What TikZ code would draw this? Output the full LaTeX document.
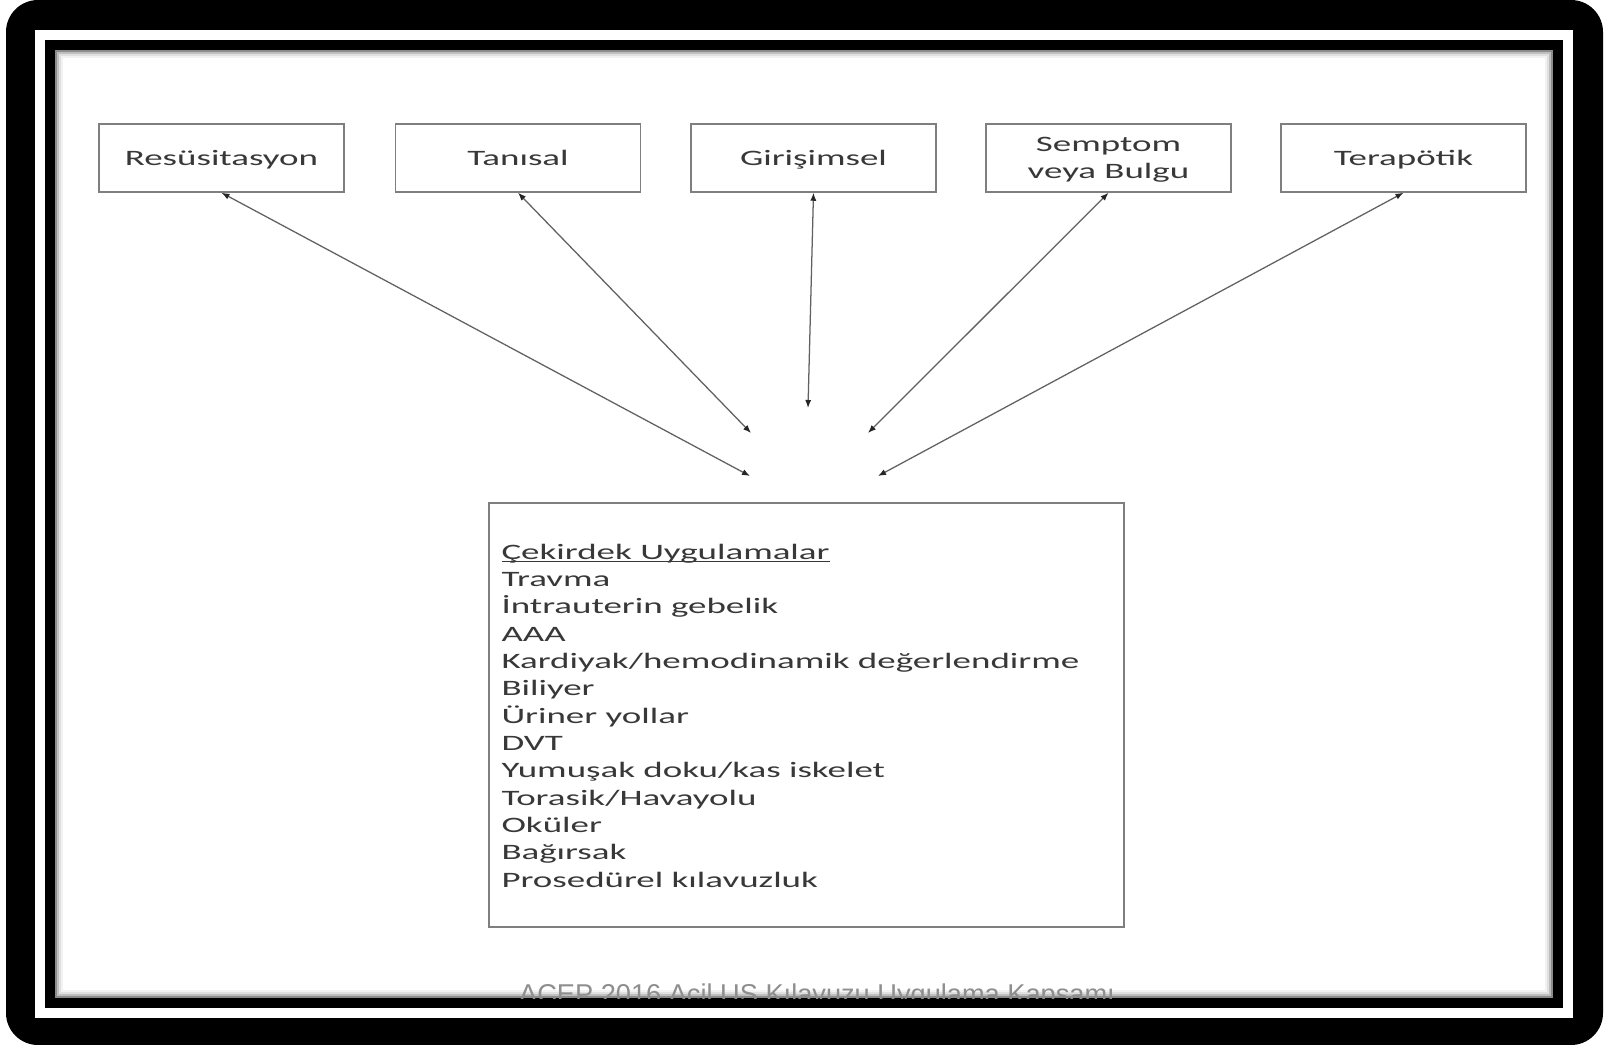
\documentclass[tikz,border=0pt]{standalone}
\usepackage{fontspec}
\usetikzlibrary{arrows.meta}
\newfontfamily\kutufont{Carlito}[FakeStretch=1.68]
\newfontfamily\dipfont{Liberation Sans}
\definecolor{cerceve}{HTML}{7F7F7F}
\definecolor{yazi}{HTML}{383838}
\definecolor{okrenk}{HTML}{616161}
\definecolor{dipnotrenk}{HTML}{8E8E8E}
\newcommand\altcizgi[1]{\setbox0\hbox{#1}\rlap{\rule[-2.4pt]{\wd0}{0.9pt}}\box0}

\tikzset{every picture/.style={line width=0.75pt},
  baslik/.style={draw=cerceve, line width=1.1pt, fill=white, minimum width=183.75pt,
    minimum height=51pt, inner sep=0pt, align=center, text=yazi,
    font=\kutufont\fontsize{16.5}{20.25}\selectfont},
  tek/.style={text height=13pt, text depth=1pt},
  bagla/.style={draw=okrenk, line width=0.95pt,
    {Latex[length=6pt,width=4.6pt,color=black!85]}-{Latex[length=6pt,width=4.6pt,color=black!85]}}}

\begin{document}
\begin{tikzpicture}[x=0.75pt,y=0.75pt,yscale=-1,xscale=1]
\useasboundingbox (0,0) rectangle (1604,1045);

%Shape: Frame
\fill[white] (0,0) rectangle (1604,1045);
\fill[black, rounded corners=24pt] (6,0) rectangle (1603,1045);
\fill[white] (35,30) rectangle (1573,1018);
\fill[black] (45,40) rectangle (1563,1008);
\fill[white] (55,50) rectangle (1553,998);

%Shape: inner shadow
\draw[black!45, line width=1.5pt] (56,51) rectangle (1552,997);
\draw[black!25, line width=1.5pt] (58,53) rectangle (1550,995);
\draw[black!12, line width=1.5pt] (60,55) rectangle (1548,993);
\draw[black!5, line width=1.5pt] (62,57) rectangle (1546,991);

% Text Node
\begin{scope}
\clip (55,50) rectangle (1553,998);
\node[font=\dipfont\fontsize{20.4}{24}\selectfont, text=dipnotrenk, anchor=base, inner sep=0pt] (dipnot) at (817,1003) {ACEP 2016 Acil US Kılavuzu Uygulama Kapsamı};
\end{scope}

%Shape: top boxes
\node[baslik, tek] (resus) at (221.5,158) {Resüsitasyon};
\node[baslik, tek] (tanisal) at (518,158) {Tanısal};
\node[baslik, tek] (girisim) at (813.5,158) {Girişimsel};
\node[baslik, text depth=0pt] (semptom) at (1108.5,158) {Semptom\\veya Bulgu};
\node[baslik, tek] (terapotik) at (1403.5,158) {Terapötik};

%Shape: core box
\node[draw=cerceve, line width=1.1pt, minimum width=476.25pt, minimum height=318pt, inner sep=0pt] (cekirdek) at (806.5,715) {};

% Text Node
\node[anchor=base west, inner sep=0pt, text=yazi] (liste) at (501,559) {\vtop{\kutufont\fontsize{16.5}{20.5}\selectfont
  \hbox{\altcizgi{Çekirdek Uygulamalar}}
  \hbox{Travma}
  \hbox{İntrauterin gebelik}
  \hbox{AAA}
  \hbox{Kardiyak/hemodinamik değerlendirme}
  \hbox{Biliyer}
  \hbox{Üriner yollar}
  \hbox{DVT}
  \hbox{Yumuşak doku/kas iskelet}
  \hbox{Torasik/Havayolu}
  \hbox{Oküler}
  \hbox{Bağırsak}
  \hbox{Prosedürel kılavuzluk}}};

%Straight Lines
\coordinate (u1) at (750,476);
\coordinate (u2) at (751,433);
\coordinate (u3) at (808,408);
\coordinate (u4) at (868,433);
\coordinate (u5) at (878,476);
\draw[bagla] (resus.south) -- (u1);
\draw[bagla] (tanisal.south) -- (u2);
\draw[bagla] (girisim.south) -- (u3);
\draw[bagla] (semptom.south) -- (u4);
\draw[bagla] (terapotik.south) -- (u5);

\end{tikzpicture}
\end{document}
